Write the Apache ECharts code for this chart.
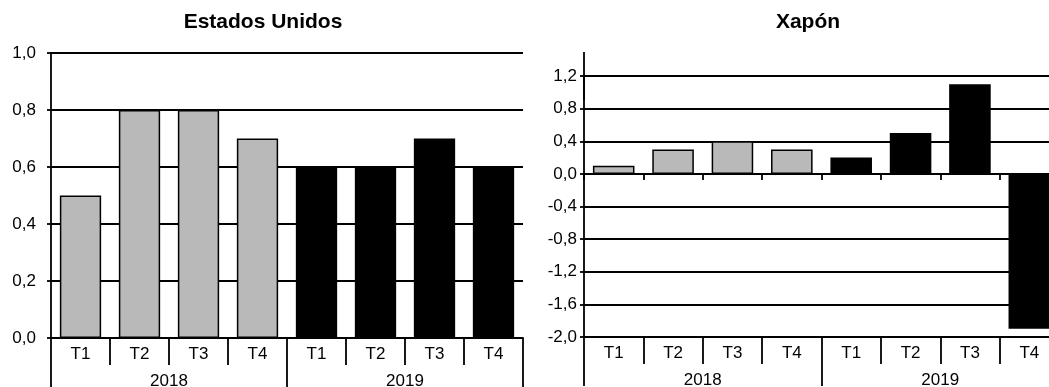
<!DOCTYPE html>
<html>
<head>
<meta charset="utf-8">
<script src="https://cdn.jsdelivr.net/npm/echarts@6/dist/echarts.min.js"></script>
<style>
  html, body { margin: 0; padding: 0; background: #fff; }
  #main { width: 1049px; height: 387px; }
</style>
</head>
<body>
<div id="main"></div>
<script>
// data
var quarters = ['T1', 'T2', 'T3', 'T4', 'T1', 'T2', 'T3', 'T4'];
var years = ['2018', '2019'];
var usValues = [0.5, 0.8, 0.8, 0.7, 0.6, 0.6, 0.7, 0.6];
var jpValues = [0.1, 0.3, 0.4, 0.3, 0.2, 0.5, 1.1, -1.9];
var usTicks = { min: 0, max: 1.0, interval: 0.2 };
var jpTicks = { min: -2.0, max: 1.2, interval: 0.4 };

var gray = '#b9b9b9';
var font = 'Liberation Sans';

function fmt(v) {
  return v.toFixed(1).replace('.', ',');
}

function barColor(p) {
  return p.dataIndex < 4 ? gray : '#000';
}

var chartDom = document.getElementById('main');
var myChart = echarts.init(chartDom);
var option;

var lineStyle = { color: '#000', width: 1.8 };
var titleStyle = { fontSize: 21, fontWeight: 'bold', color: '#000', fontFamily: font };

option = {
  animation: false,
  textStyle: { fontFamily: font, color: '#000' },
  title: [
    { text: 'Estados Unidos', left: 263, top: 12, textAlign: 'center', padding: 0, textStyle: titleStyle },
    { text: 'Xapón', left: 808, top: 12, textAlign: 'center', padding: 0, textStyle: titleStyle }
  ],
  grid: [
    { left: 51, top: 53, width: 472, height: 285, outerBoundsMode: 'none', containLabel: false },
    { left: 584, top: 76, width: 475, height: 261, outerBoundsMode: 'none', containLabel: false }
  ],
  xAxis: [
    // Estados Unidos: quarters row
    {
      type: 'category', gridIndex: 0, position: 'bottom', data: quarters,
      axisLine: { show: true, lineStyle: lineStyle },
      axisTick: { show: true, length: 27, lineStyle: lineStyle },
      axisLabel: { fontSize: 17, color: '#000', margin: 8, interval: 0 }
    },
    // Estados Unidos: years row
    {
      type: 'category', gridIndex: 0, position: 'bottom', offset: 27, data: years,
      axisLine: { show: false },
      axisTick: { show: true, length: 22, lineStyle: lineStyle },
      axisLabel: { fontSize: 17, color: '#000', margin: 8 }
    },
    // Xapón: zero line ticks
    {
      type: 'category', gridIndex: 1, position: 'bottom', data: quarters,
      axisLine: { show: true, onZero: true, lineStyle: lineStyle },
      axisTick: { show: true, length: 6, lineStyle: lineStyle },
      axisLabel: { show: false }
    },
    // Xapón: quarters row at the bottom
    {
      type: 'category', gridIndex: 1, position: 'bottom', data: quarters,
      axisLine: { show: true, onZero: false, lineStyle: lineStyle },
      axisTick: { show: true, length: 27, lineStyle: lineStyle },
      axisLabel: { fontSize: 17, color: '#000', margin: 8, interval: 0 }
    },
    // Xapón: years row
    {
      type: 'category', gridIndex: 1, position: 'bottom', offset: 27, data: years,
      axisLine: { show: false, onZero: false },
      axisTick: { show: true, length: 22, lineStyle: lineStyle },
      axisLabel: { fontSize: 17, color: '#000', margin: 8 }
    }
  ],
  yAxis: [
    {
      type: 'value', gridIndex: 0,
      min: usTicks.min, max: usTicks.max, interval: usTicks.interval,
      axisLine: { show: true, lineStyle: lineStyle },
      axisTick: { show: true, length: 4, lineStyle: lineStyle },
      axisLabel: { fontSize: 17, color: '#000', margin: 15, formatter: fmt },
      splitLine: { lineStyle: lineStyle }
    },
    {
      type: 'value', gridIndex: 1,
      min: jpTicks.min, max: jpTicks.max, interval: jpTicks.interval,
      axisLine: {
        show: true, lineStyle: lineStyle,
        symbol: ['none', 'rect'], symbolSize: [1.8, 48]
      },
      axisTick: { show: true, length: 4, lineStyle: lineStyle },
      axisLabel: { fontSize: 17, color: '#000', margin: 7, formatter: fmt },
      splitLine: { lineStyle: lineStyle }
    }
  ],
  series: [
    {
      name: 'Estados Unidos', type: 'bar', xAxisIndex: 0, yAxisIndex: 0,
      data: usValues, barWidth: '70%',
      itemStyle: { color: barColor, borderColor: '#000', borderWidth: 1.5 }
    },
    {
      name: 'Xapón', type: 'bar', xAxisIndex: 2, yAxisIndex: 1,
      data: jpValues, barWidth: '70%',
      itemStyle: { color: barColor, borderColor: '#000', borderWidth: 1.5 }
    }
  ]
};

option && myChart.setOption(option);
</script>
</body>
</html>
